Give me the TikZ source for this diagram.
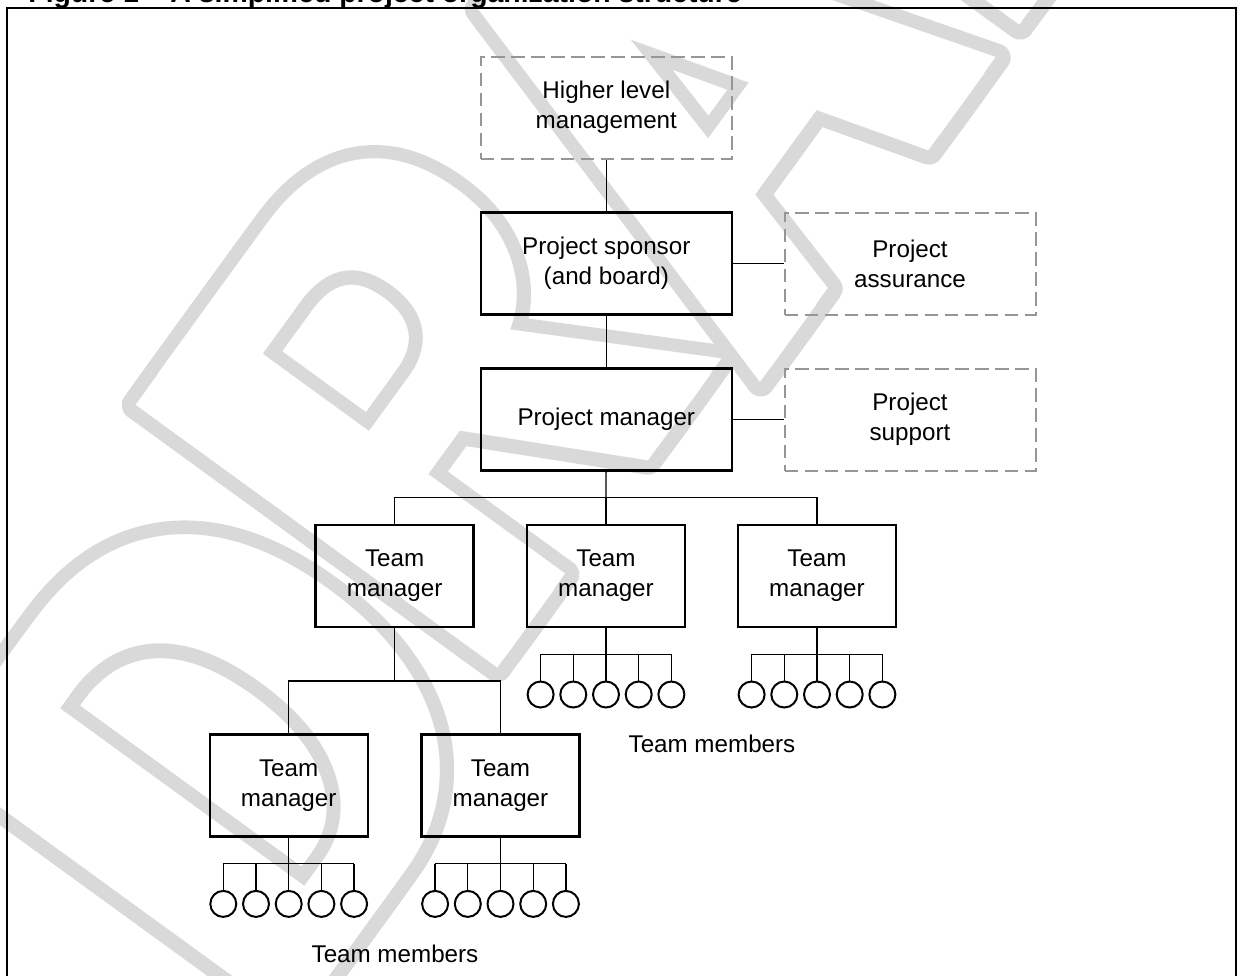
\documentclass[tikz,border=0pt]{standalone}
\usepackage{fontspec}
\setmainfont{Liberation Sans}
\newfontfamily\wmfont{Liberation Sans}[FakeStretch=0.834]
\definecolor{wmgray}{RGB}{217,217,217}
\definecolor{dashgray}{RGB}{150,150,150}
% watermark glyphs: three copies side by side give a heavier letter;
% the grey pass strokes them, the white pass fills them again so that
% only the outer outline stays visible
\newcommand\wmrule{\special{pdf:literal direct 0.851 0.851 0.851 RG 1 Tr 14 w 1 j 1 J}}
\newcommand\wmfill{\special{pdf:literal direct 1 1 1 rg 1 1 1 RG 0 Tr}}
\newcommand\wmtriple[2]{\rlap{\kern-9.4pt#1#2}\rlap{#1#2}\rlap{\kern9.4pt#1#2}}
\begin{document}
\begin{tikzpicture}[x=0.5pt,y=-0.5pt,
  conn/.style={line width=0.65pt},
  solidbox/.style={draw, line width=1.2pt, align=center, inner sep=0pt,
    font=\fontsize{12.1}{15}\selectfont},
  bigbox/.style={solidbox, minimum width=125.5pt, minimum height=51pt},
  teambox/.style={solidbox, minimum width=79pt, minimum height=51pt},
  dashbox/.style={bigbox, draw=dashgray, line width=1pt, dash pattern=on 6.75pt off 3.25pt},
  member/.style={circle, draw, line width=1pt, minimum size=13pt, inner sep=0pt},
  letter/.style={text=wmgray, anchor=base west, inner sep=0pt, rotate=54,
    font=\wmfont\bfseries\fontsize{325}{325}\selectfont},
  caption/.style={font=\fontsize{12.1}{15}\selectfont, inner sep=0pt, anchor=base}
]
\useasboundingbox (0,0) rectangle (1239,976);
\clip (0,0) rectangle (1239,976);
\fill[white] (0,0) rectangle (1239,976);

% watermark: outline pass, then interior pass
\foreach \ch/\px/\py in {D/284.3/1037.7, R/486.3/683.2, A/763.0/379.2, F/1008.9/40.9, T/1212.3/-239.1}
  \node[letter] (wm\ch) at (\px,\py) {\wmtriple{\wmrule}{\ch}};
\foreach \ch/\px/\py in {D/284.3/1037.7, R/486.3/683.2, A/763.0/379.2, F/1008.9/40.9, T/1212.3/-239.1}
  \node[letter] (wm\ch fill) at (\px,\py) {\wmtriple{\wmfill}{\ch}};

% caption and frame
\node[font=\bfseries\fontsize{14.2}{17}\selectfont, anchor=base west, inner sep=0pt]
  (title) at (28,2) {Figure 1 – A simplified project organization structure};
\draw[line width=1pt] (7,8) rectangle (1236,1000);

% upper chain
\node[dashbox] (hlm) at (606.3,107.5) {Higher level\\management};
\node[bigbox] (sponsor) at (606.3,263.5) {Project sponsor\\(and board)};
\node[bigbox] (pm) at (606.3,419.5) {Project manager};
\node[dashbox] (assure) at (910,263.5) {Project\\assurance};
\node[dashbox] (support) at (910,419.5) {Project\\support};

\draw[conn] (hlm) -- (sponsor);
\draw[conn] (sponsor) -- (pm);
\draw[conn] (sponsor) -- (assure);
\draw[conn] (pm) -- (support);

% team managers
\node[teambox] (tm1) at (394.6,575.8) {Team\\manager};
\node[teambox] (tm2) at (606,575.8) {Team\\manager};
\node[teambox] (tm3) at (817,575.8) {Team\\manager};
\node[teambox] (tm4) at (288.7,785.6) {Team\\manager};
\node[teambox] (tm5) at (500.5,785.6) {Team\\manager};

\coordinate (bus1) at (606,497.7);
\coordinate (bus2) at (394.6,681);
\draw[conn] (pm) -- (bus1);
\draw[conn] (tm1.north) |- (bus1) -| (tm3.north);
\draw[conn] (bus1) -- (tm2.north);
\draw[conn] (tm1.south) -- (bus2);
\draw[conn] (tm4.north) |- (bus2) -| (tm5.north);

% team members under each team manager
\foreach \t/\cx/\cy in {tm2/606/654.3, tm3/817/654.3, tm4/288.7/863.7, tm5/500.5/863.7} {
  \coordinate (\t bus) at (\cx,\cy);
  \draw[conn] (\t.south) -- (\t bus);
  \foreach \k in {1,...,5} {
    \node[member] (\t m\k) at ({\cx+(\k-3)*32.7},{\cy+40.2}) {};
    \draw[conn] (\t m\k.north) -- (\t m\k.north |- \t bus);
  }
  \draw[conn] (\t m1.north |- \t bus) -- (\t m5.north |- \t bus);
}

\node[caption] (lbl1) at (712,752) {Team members};
\node[caption] (lbl2) at (395,962) {Team members};
\end{tikzpicture}
\end{document}
